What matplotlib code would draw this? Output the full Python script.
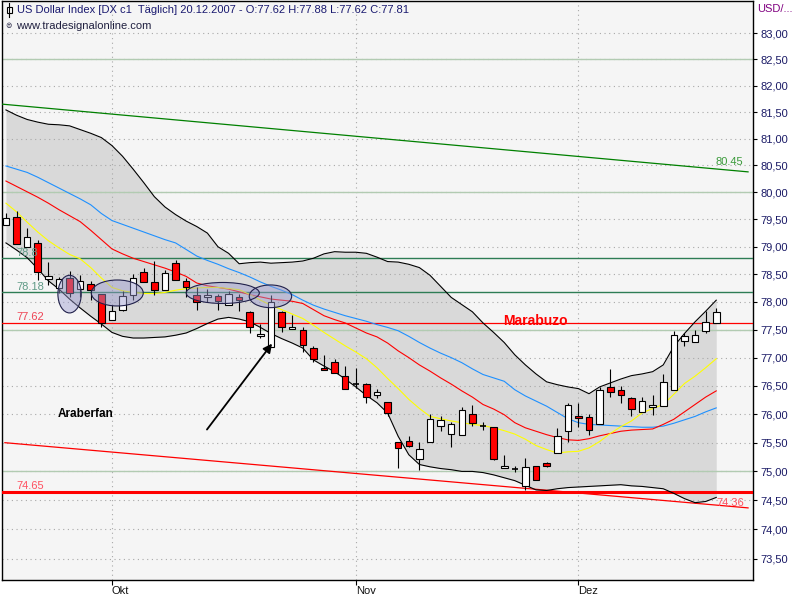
import numpy as np
import matplotlib
matplotlib.use("Agg")
import matplotlib.pyplot as plt
from matplotlib.patches import Rectangle, Ellipse
from matplotlib.lines import Line2D
from matplotlib.ticker import FixedLocator, FuncFormatter, NullLocator

# ---------------- data ----------------
opens = [79.40, 79.55, 78.99, 79.06, 78.41, 78.25, 78.43, 78.23, 78.33, 78.14,
         77.68, 77.86, 78.12, 78.54, 78.35, 78.21, 78.70, 78.37, 78.13, 78.08,
         78.10, 77.94, 78.09, 77.81, 77.38, 77.19, 77.81, 77.52, 77.50, 77.17,
         76.81, 76.92, 76.68, 76.54, 76.54, 76.34, 76.22, 75.51, 75.53, 75.21,
         75.51, 75.80, 75.65, 75.63, 76.00, 75.80, 75.77, 75.06, 75.04, 74.75,
         75.10, 75.15, 75.32, 75.70, 75.97, 75.95, 75.82, 76.47, 76.43, 76.28,
         76.04, 76.13, 76.14, 76.42, 77.29, 77.27, 77.47, 77.62]
highs = [79.62, 79.66, 79.34, 79.12, 78.73, 78.45, 78.55, 78.49, 78.37, 78.14,
         77.95, 78.19, 78.51, 78.61, 78.74, 78.57, 78.75, 78.43, 78.27, 78.24,
         78.15, 78.19, 78.15, 77.83, 77.60, 78.13, 77.83, 77.77, 77.55, 77.21,
         77.05, 76.97, 76.85, 76.82, 76.55, 76.45, 76.22, 75.51, 75.61, 75.51,
         76.01, 75.96, 75.86, 76.12, 76.16, 75.87, 75.78, 75.28, 75.09, 75.23,
         75.10, 75.16, 75.75, 76.19, 76.19, 76.00, 76.48, 76.79, 76.49, 76.31,
         76.31, 76.34, 76.71, 77.48, 77.44, 77.49, 77.84, 77.88]
lows = [79.40, 79.05, 78.99, 78.40, 78.30, 78.16, 78.08, 78.08, 78.03, 77.55,
        77.68, 77.84, 78.03, 78.35, 78.12, 78.21, 78.39, 78.09, 77.86, 78.00,
        77.85, 77.94, 77.84, 77.44, 77.35, 77.19, 77.45, 77.52, 77.10, 76.93,
        76.78, 76.72, 76.45, 76.46, 76.19, 76.29, 75.96, 75.06, 75.42, 75.02,
        75.51, 75.70, 75.43, 75.63, 75.79, 75.72, 75.19, 75.06, 74.99, 74.67,
        74.85, 75.07, 75.32, 75.51, 75.78, 75.63, 75.82, 76.30, 76.20, 75.97,
        76.04, 75.98, 76.14, 76.42, 77.21, 77.27, 77.44, 77.62]
closes = [79.52, 79.05, 79.17, 78.54, 78.47, 78.41, 78.16, 78.38, 78.22, 77.62,
          77.83, 78.11, 78.44, 78.35, 78.21, 78.52, 78.39, 78.27, 78.00, 78.13,
          78.01, 78.15, 78.03, 77.55, 77.42, 78.00, 77.55, 77.55, 77.23, 76.97,
          76.78, 76.72, 76.45, 76.54, 76.30, 76.39, 76.02, 75.40, 75.44, 75.39,
          75.92, 75.90, 75.82, 76.08, 75.84, 75.80, 75.21, 75.09, 75.04, 75.07,
          74.85, 75.10, 75.61, 76.16, 75.93, 75.73, 76.43, 76.39, 76.34, 76.09,
          76.24, 76.16, 76.57, 77.41, 77.39, 77.41, 77.64, 77.81]

upper_band = [81.54, 81.44, 81.36, 81.31, 81.27, 81.26, 81.24, 81.17, 81.10, 81.02,
              80.87, 80.67, 80.43, 80.18, 79.92, 79.73, 79.59, 79.47, 79.37, 79.25,
              79.00, 78.88, 78.69, 78.71, 78.72, 78.70, 78.71, 78.72, 78.74, 78.79,
              78.87, 78.91, 78.90, 78.90, 78.88, 78.81, 78.73, 78.72, 78.68, 78.62,
              78.48, 78.28, 78.08, 77.95, 77.82, 77.62, 77.45, 77.27, 77.05, 76.87,
              76.71, 76.57, 76.52, 76.48, 76.45, 76.36, 76.48, 76.55, 76.62, 76.68,
              76.71, 76.75, 76.87, 77.20, 77.43, 77.64, 77.83, 78.03]
lower_band = [79.07, 78.94, 78.80, 78.60, 78.38, 78.23, 78.05, 77.89, 77.74, 77.60,
              77.45, 77.38, 77.35, 77.35, 77.36, 77.37, 77.40, 77.44, 77.52, 77.61,
              77.69, 77.72, 77.69, 77.64, 77.54, 77.43, 77.34, 77.26, 77.17, 76.96,
              76.85, 76.75, 76.62, 76.48, 76.33, 76.20, 76.02, 75.61, 75.29, 75.12,
              75.08, 75.05, 75.03, 75.00, 75.00, 74.98, 74.94, 74.89, 74.84, 74.76,
              74.68, 74.67, 74.70, 74.72, 74.73, 74.74, 74.75, 74.76, 74.77, 74.75,
              74.74, 74.72, 74.70, 74.62, 74.53, 74.46, 74.48, 74.55]
ma_yellow = [79.80, 79.64, 79.45, 79.27, 79.11, 78.98, 78.86, 78.78, 78.62, 78.43,
             78.26, 78.20, 78.17, 78.15, 78.15, 78.17, 78.21, 78.24, 78.25, 78.26,
             78.26, 78.24, 78.22, 78.13, 78.03, 77.94, 77.86, 77.78, 77.70, 77.58,
             77.45, 77.33, 77.21, 77.10, 76.98, 76.82, 76.63, 76.45, 76.26, 76.10,
             75.96, 75.92, 75.88, 75.85, 75.82, 75.80, 75.76, 75.71, 75.65, 75.56,
             75.45, 75.38, 75.32, 75.34, 75.35, 75.41, 75.52, 75.66, 75.78, 75.88,
             76.02, 76.10, 76.17, 76.35, 76.54, 76.67, 76.82, 76.98]
ma_red = [80.21, 80.11, 80.01, 79.91, 79.80, 79.68, 79.57, 79.46, 79.30, 79.13,
          78.96, 78.87, 78.79, 78.73, 78.67, 78.61, 78.54, 78.46, 78.34, 78.29,
          78.26, 78.23, 78.18, 78.13, 78.09, 78.05, 78.03, 78.01, 77.97, 77.86,
          77.75, 77.68, 77.62, 77.53, 77.44, 77.37, 77.26, 77.12, 77.00, 76.87,
          76.76, 76.64, 76.53, 76.41, 76.30, 76.17, 76.09, 75.99, 75.85, 75.76,
          75.70, 75.64, 75.59, 75.55, 75.54, 75.57, 75.62, 75.66, 75.70, 75.72,
          75.73, 75.74, 75.82, 75.91, 76.04, 76.17, 76.30, 76.41]
ma_blue = [80.49, 80.43, 80.37, 80.28, 80.18, 80.08, 79.98, 79.88, 79.77, 79.61,
           79.48, 79.41, 79.34, 79.27, 79.20, 79.13, 79.07, 78.95, 78.83, 78.75,
           78.68, 78.60, 78.53, 78.45, 78.36, 78.28, 78.21, 78.13, 78.03, 77.94,
           77.87, 77.81, 77.75, 77.70, 77.65, 77.59, 77.54, 77.48, 77.38, 77.27,
           77.17, 77.08, 77.00, 76.91, 76.80, 76.70, 76.64, 76.58, 76.43, 76.32,
           76.23, 76.14, 76.03, 75.92, 75.85, 75.82, 75.81, 75.80, 75.79, 75.78,
           75.77, 75.77, 75.79, 75.84, 75.90, 75.96, 76.04, 76.11]

month_labels = ["Okt", "Nov", "Dez"]
month_index = [10, 33, 54]
y_ticks = [73.5, 74.0, 74.5, 75.0, 75.5, 76.0, 76.5, 77.0, 77.5, 78.0,
           78.5, 79.0, 79.5, 80.0, 80.5, 81.0, 81.5, 82.0, 82.5, 83.0]

light_levels = [82.5, 80.0, 77.5, 75.0]
dark_levels = [78.8, 78.18]
resistance_level = 77.62
support_level = 74.65
green_trend_x = [-0.42, 70.0]
green_trend_y = [81.65, 80.38]
red_trend_x = [-0.1, 70.0]
red_trend_y = [75.50, 74.37]

# ---------------- figure ----------------
W, H = 800, 600
fig = plt.figure(figsize=(8, 6), dpi=100, facecolor="white")
L, R, T, B = 1.5, 752.5, 1.0, 580.0
ax = fig.add_axes([L / W, 1 - B / H, (R - L) / W, (B - T) / H])
ax.set_facecolor("#f5f5f5")
ax.set_yscale("log")
ax.set_xlim(-0.42, 70.42)
ax.set_ylim(73.14, 83.62)

FONT = "Liberation Sans"
navy = "#1a1a66"

def px(x, y):
    return x / W, 1 - y / H

n = len(opens)
xs = np.arange(n)

# band fill
ax.fill_between(xs, lower_band, upper_band, color="#d9d9d9", lw=0, zorder=1)

# dotted grid
dot = dict(color="#a8a8a8", lw=0.8, dashes=(1.0, 3.2), zorder=2)
for v in y_ticks:
    ax.axhline(v, **dot)
for m in month_index:
    ax.axvline(m, **dot)

for v in light_levels:
    ax.axhline(v, color="#b2cbb2", lw=1.0, zorder=2.5)
for v in dark_levels:
    ax.axhline(v, color="#2e7d55", lw=1.0, zorder=2.6)
ax.axhline(resistance_level, color="#ff0000", lw=0.9, zorder=2.6)
ax.axhline(support_level, color="#ff0000", lw=2.2, zorder=2.6)

ax.plot(green_trend_x, green_trend_y, color="#008000", lw=0.9, zorder=2.7)
ax.plot(red_trend_x, red_trend_y, color="#ff0000", lw=0.9, zorder=2.7)

# band edges and averages
ax.plot(xs, upper_band, color="black", lw=0.8, zorder=3)
ax.plot(xs, lower_band, color="black", lw=0.8, zorder=3)
ax.plot(xs, ma_blue, color="#1e90ff", lw=0.8, zorder=3.1)
ax.plot(xs, ma_red, color="#ff0000", lw=0.8, zorder=3.1)
ax.plot(xs, ma_yellow, color="#ffff00", lw=0.8, zorder=3.1)

# candles
w = 0.62
for i in range(n):
    o, h, l, c = opens[i], highs[i], lows[i], closes[i]
    ax.vlines(i, l, h, color="black", lw=0.8, zorder=4)
    if abs(c - o) < 1e-9:
        ax.hlines(o, i - w / 2, i + w / 2, color="black", lw=1.2, zorder=5)
    else:
        fc = "white" if c > o else "#ff0000"
        ax.add_patch(Rectangle((i - w / 2, min(o, c)), w, abs(c - o),
                               facecolor=fc, edgecolor="black", lw=0.8, zorder=5))

# ellipses (center index, center price, width in bars, height in price)
for cx, cy, ew, eh in [(6.0, 78.14, 2.2, 0.68), (10.5, 78.16, 4.9, 0.47),
                       (20.45, 78.16, 6.9, 0.38), (24.95, 78.10, 4.0, 0.41)]:
    ax.add_patch(Ellipse((cx, cy), ew, eh, facecolor="#9a9ad0", alpha=0.45,
                         edgecolor="none", zorder=6))
    ax.add_patch(Ellipse((cx, cy), ew, eh, facecolor="none",
                         edgecolor="#20204a", lw=0.8, zorder=6.1))

# arrow
ax.annotate("", xy=(25.1, 77.25), xytext=(18.96, 75.73),
            arrowprops=dict(arrowstyle="-|>", color="black", lw=1.3,
                            mutation_scale=13, shrinkA=0, shrinkB=0), zorder=7)

# axis styling
for s in ax.spines.values():
    s.set_color("black")
    s.set_linewidth(1.0)
ax.yaxis.tick_right()
ax.yaxis.set_major_locator(FixedLocator(y_ticks))
ax.yaxis.set_minor_locator(NullLocator())
ax.yaxis.set_major_formatter(FuncFormatter(lambda v, p: f"{v:.2f}".replace(".", ",")))
ax.tick_params(axis="y", which="major", direction="out", length=3.2, width=0.8,
               pad=2.5, labelsize=8, labelcolor=navy, colors="black")
ax.set_xticks(month_index)
ax.set_xticklabels(month_labels)
ax.tick_params(axis="x", direction="out", length=3.5, width=0.8, pad=1.0,
               labelsize=8, labelcolor="#111111")
for lbl in ax.get_xticklabels():
    lbl.set_horizontalalignment("left")
    lbl.set_fontfamily(FONT)
for lbl in ax.get_yticklabels():
    lbl.set_fontfamily(FONT)

# texts
fig.text(*px(17, 10), "US Dollar Index [DX c1  Täglich] 20.12.2007 - O:77.62 H:77.88 L:77.62 C:77.81",
         fontsize=8, color="#1a1a70", va="center", ha="left", family=FONT)
fig.text(*px(16, 26), "www.tradesignalonline.com", fontsize=8, color="#202040",
         va="center", ha="left", family=FONT)
fig.text(*px(5, 26), "⊜", fontsize=5.5, color="#202040", va="center", ha="left")
# small candle icon
fig.add_artist(Line2D([9 / W, 9 / W], [1 - 3 / H, 1 - 17 / H], color="black", lw=0.8))
fig.add_artist(Rectangle(px(6.5, 13), 5 / W, 6 / H, facecolor="white",
                         edgecolor="black", lw=0.8))
fig.text(*px(757, 9), "USD/...", fontsize=8, color="#800080", va="center",
         ha="left", family=FONT)

def label(x, y, s, color, size=8, weight="normal"):
    fig.text(*px(x, y), s, fontsize=size, color=color, va="center", ha="left",
             family=FONT, fontweight=weight, zorder=10)

label(16, 253, "78.8", "#5f9a86")
label(16, 287, "78.18", "#5f9a86")
label(16, 317, "77.62", "#ee4455")
label(16, 486, "74.65", "#ff5060")
label(715, 162, "80.45", "#3a9a3a")
label(716, 503, "74.36", "#ff5060")
label(503, 321, "Marabuzo", "#ff0000", size=10, weight="bold")
label(58, 414, "Araberfan", "black", size=8.5, weight="bold")

fig.savefig("out.png", dpi=100, facecolor="white")
